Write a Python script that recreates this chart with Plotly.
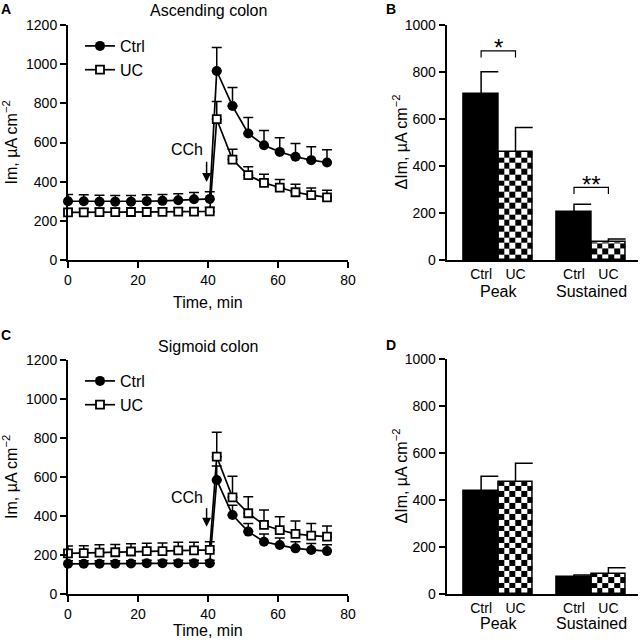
import numpy as np
import plotly.graph_objects as go

# ---------------- data ----------------
time_min = [0, 4.5, 9, 13.5, 18, 22.5, 27, 31.5, 36, 40.5,
            42.5, 47, 51.5, 56, 60.5, 65, 69.5, 74]

asc_ctrl = [300, 300, 298, 298, 298, 300, 302, 305, 310, 312,
            965, 786, 646, 586, 552, 527, 510, 498]
asc_ctrl_err = [35, 33, 33, 32, 32, 33, 33, 33, 35, 36,
                120, 95, 82, 75, 72, 68, 68, 65]
asc_uc = [243, 243, 244, 244, 245, 245, 246, 247, 247, 248,
          719, 513, 433, 394, 370, 346, 331, 320]
asc_uc_err = [20, 20, 20, 20, 20, 20, 20, 20, 20, 20,
              90, 53, 43, 44, 41, 41, 37, 36]

sig_ctrl = [155, 155, 155, 155, 156, 158, 158, 158, 158, 158,
            585, 405, 320, 268, 251, 234, 226, 220]
sig_ctrl_err = [15, 15, 15, 15, 15, 15, 15, 15, 15, 15,
                71, 50, 42, 40, 36, 34, 33, 32]
sig_uc = [208, 210, 212, 214, 218, 220, 220, 224, 224, 226,
          704, 496, 414, 354, 328, 308, 299, 294]
sig_uc_err = [38, 38, 40, 40, 40, 40, 42, 42, 42, 42,
              125, 108, 85, 77, 68, 66, 63, 55]

bar_x = [1, 2, 3.7, 4.7]
bar_labels = ["Ctrl", "UC", "Ctrl", "UC"]
bar_groups = ["Peak", "Sustained"]
bar_is_uc = [False, True, False, True]

asc_bar = [705, 461, 203, 75]
asc_bar_err = [96, 103, 34, 14]
sig_bar = [438, 477, 71, 85]
sig_bar_err = [63, 79, 10, 27]

# ---------------- style ----------------
FONT = "Liberation Sans, Arial, Helvetica, sans-serif"
W = H = 640
BAR_W = 1.0
CHECK_COLS = 6
CHECK_UNITS = 5.7 * 1000 / 235  # checker cell height in data units

fig = go.Figure()


def px_x(p):
    return p / W


def px_y(p):
    return 1 - p / H


def add_lines(xa, ya, ctrl, ctrl_err, uc, uc_err, legend):
    n = len(time_min)
    fig.add_trace(go.Scatter(
        x=time_min, y=ctrl, mode="lines+markers", name="Ctrl",
        xaxis=xa, yaxis=ya, legend=legend, cliponaxis=False,
        line=dict(color="black", width=1.7),
        marker=dict(symbol="circle", size=10, color="black"),
        error_y=dict(type="data", array=ctrl_err, arrayminus=[0] * n,
                     symmetric=False, color="black", thickness=1.5, width=5),
    ))
    fig.add_trace(go.Scatter(
        x=time_min, y=uc, mode="lines+markers", name="UC",
        xaxis=xa, yaxis=ya, legend=legend, cliponaxis=False,
        line=dict(color="black", width=1.7),
        marker=dict(symbol="square", size=8, color="white",
                    line=dict(color="black", width=1.8)),
        error_y=dict(type="data", array=uc_err, arrayminus=[0] * n,
                     symmetric=False, color="black", thickness=1.5, width=5),
    ))


def add_bars(xa, ya, vals, errs):
    # checkerboard fill for UC bars (heatmap cells through axis scales)
    for x, v, uc in zip(bar_x, vals, bar_is_uc):
        if not uc:
            continue
        xe = np.linspace(x - BAR_W / 2, x + BAR_W / 2, CHECK_COLS + 1)
        ye = list(np.arange(0, v, CHECK_UNITS)) + [v]
        z = [[(i + j) % 2 for j in range(CHECK_COLS)] for i in range(len(ye) - 1)]
        fig.add_trace(go.Heatmap(
            x=xe, y=ye, z=z, xaxis=xa, yaxis=ya, zmin=0, zmax=1,
            colorscale=[[0, "white"], [1, "black"]], showscale=False,
            hoverinfo="skip", showlegend=False,
        ))
    fig.add_trace(go.Bar(
        x=bar_x, y=vals, width=BAR_W, xaxis=xa, yaxis=ya, showlegend=False,
        marker=dict(color=["rgba(0,0,0,0)" if u else "black" for u in bar_is_uc],
                    line=dict(color="black", width=1.5)),
    ))
    ex, ey = [], []
    for x, v, e in zip(bar_x, vals, errs):
        ex += [x, x, x + BAR_W / 2, None]
        ey += [v, v + e, v + e, None]
    fig.add_trace(go.Scatter(
        x=ex, y=ey, mode="lines", xaxis=xa, yaxis=ya, showlegend=False,
        line=dict(color="black", width=1.5), hoverinfo="skip",
    ))


add_lines("x", "y", asc_ctrl, asc_ctrl_err, asc_uc, asc_uc_err, "legend")
add_bars("x2", "y2", asc_bar, asc_bar_err)
add_lines("x3", "y3", sig_ctrl, sig_ctrl_err, sig_uc, sig_uc_err, "legend2")
add_bars("x4", "y4", sig_bar, sig_bar_err)

axis_common = dict(showline=True, linecolor="black", linewidth=2,
                   ticks="outside", ticklen=6, tickwidth=2, tickcolor="black",
                   showgrid=False, zeroline=False, automargin=False,
                   tickfont=dict(family=FONT, size=14, color="black"))

dom_left = [px_x(68), px_x(348)]
dom_right = [px_x(446.7), px_x(638)]
dom_top = [px_y(260), px_y(25)]
dom_bot = [px_y(594), px_y(360)]

bar_xaxis = dict(axis_common, range=[0, 5.56], tickvals=bar_x,
                 ticktext=bar_labels, ticks="")

fig.update_layout(
    width=W, height=H, margin=dict(l=0, r=0, t=0, b=0, pad=0, autoexpand=False),
    paper_bgcolor="white", plot_bgcolor="white",
    font=dict(family=FONT, size=14, color="black"),
    xaxis=dict(axis_common, domain=dom_left, range=[0, 80], tickvals=[0, 20, 40, 60, 80], anchor="y"),
    yaxis=dict(axis_common, domain=dom_top, range=[0, 1200], dtick=200, anchor="x"),
    xaxis2=dict(bar_xaxis, domain=dom_right, anchor="y2"),
    yaxis2=dict(axis_common, domain=dom_top, range=[0, 1000], dtick=200, anchor="x2"),
    xaxis3=dict(axis_common, domain=dom_left, range=[0, 80], tickvals=[0, 20, 40, 60, 80], anchor="y3"),
    yaxis3=dict(axis_common, domain=dom_bot, range=[0, 1200], dtick=200, anchor="x3"),
    xaxis4=dict(bar_xaxis, domain=dom_right, anchor="y4"),
    yaxis4=dict(axis_common, domain=[px_y(594), px_y(359)], range=[0, 1000], dtick=200, anchor="x4"),
    legend=dict(x=px_x(80), y=px_y(29), xanchor="left", yanchor="top",
                bgcolor="rgba(0,0,0,0)", font=dict(size=16), itemwidth=30),
    legend2=dict(x=px_x(80), y=px_y(364), xanchor="left", yanchor="top",
                 bgcolor="rgba(0,0,0,0)", font=dict(size=16), itemwidth=30),
    bargap=0,
)

ann = []


def text(x, y, s, size=16, **kw):
    d = dict(x=x, y=y, text=s, showarrow=False, xref="paper", yref="paper",
             xanchor="center", yanchor="middle",
             font=dict(family=FONT, size=size, color="black"))
    d.update(kw)
    ann.append(d)


# panel letters
text(px_x(6), px_y(9), "<b>A</b>", 14)
text(px_x(391), px_y(9), "<b>B</b>", 14)
text(px_x(6), px_y(335), "<b>C</b>", 14)
text(px_x(391), px_y(345), "<b>D</b>", 14)
# titles
text(px_x(208), px_y(10), "Ascending colon")
text(px_x(208), px_y(346), "Sigmoid colon")
# axis titles
text(px_x(208), px_y(302), "Time, min")
text(px_x(208), px_y(630), "Time, min")
ytitle = "Im, µA cm<sup>−2</sup>"
dtitle = "ΔIm, µA cm<sup>−2</sup>"
text(px_x(10), px_y(142.5), ytitle, textangle=-90)
text(px_x(10), px_y(477), ytitle, textangle=-90)
text(px_x(400), px_y(142.5), dtitle, textangle=-90)
text(px_x(400), px_y(476.5), dtitle, textangle=-90)
# group labels
for xr, yy in (("x2", 291), ("x4", 623)):
    text((bar_x[0] + bar_x[1]) / 2, px_y(yy), bar_groups[0], xref=xr)
    text((bar_x[2] + bar_x[3]) / 2, px_y(yy), bar_groups[1], xref=xr)
# CCh labels & arrows
for xr, yr, ty, tail, tip in (("x", "y", 562, 510, 398), ("x3", "y3", 497, 448, 345)):
    text(34, ty, "CCh", xref=xr, yref=yr)
    ann.append(dict(x=39.6, y=tip, ax=39.6, ay=tail, xref=xr, yref=yr,
                    axref=xr, ayref=yr, text="", showarrow=True,
                    arrowhead=2, arrowsize=1.2, arrowwidth=1.5,
                    arrowcolor="black", standoff=0, startstandoff=0))
# significance stars
text((bar_x[0] + bar_x[1]) / 2, 903, "*", 24, xref="x2", yref="y2")
text((bar_x[2] + bar_x[3]) / 2, 323, "**", 24, xref="x2", yref="y2")
fig.update_layout(annotations=ann)

shapes = []
for a, b, top in ((0, 1, 890), (2, 3, 309)):
    shapes.append(dict(type="path", xref="x2", yref="y2",
                       path=f"M {bar_x[a]},{top - 28} L {bar_x[a]},{top} L {bar_x[b]},{top} L {bar_x[b]},{top - 28}",
                       line=dict(color="black", width=1.2)))
fig.update_layout(shapes=shapes)

# remove the browser's default 8px page margin so the 640x640 figure fills the window
fig.write_html("out.html", config={"displayModeBar": False},
               post_script="document.body.style.margin='0';")
